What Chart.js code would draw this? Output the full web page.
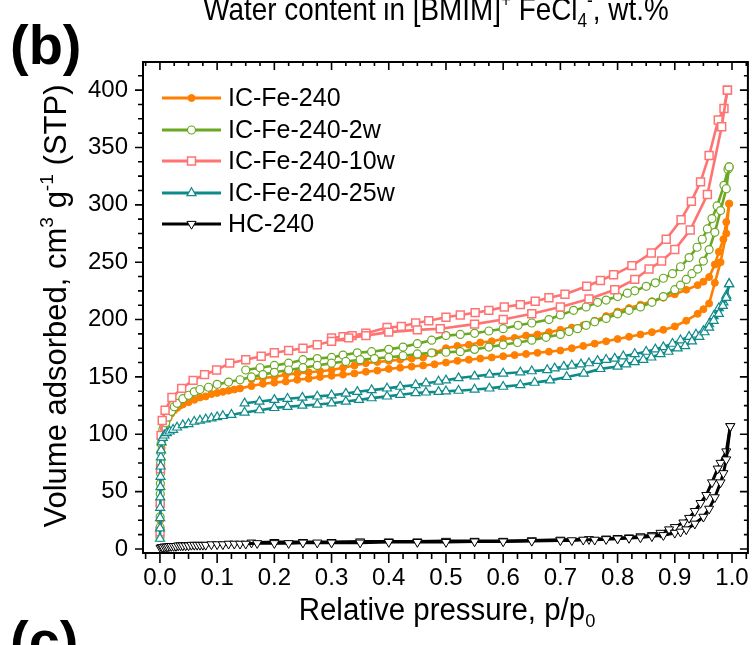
<!DOCTYPE html>
<html>
<head>
<meta charset="utf-8">
<script src="https://cdn.jsdelivr.net/npm/chart.js@4.4.1/dist/chart.umd.min.js"></script>
<style>
  body { margin: 0; background: #fff; }
  #wrap { width: 755px; height: 645px; }
</style>
</head>
<body>
<div id="wrap"><canvas id="iso" width="755" height="645"></canvas></div>
<script>
// N2 isotherms, p/p0 vs volume adsorbed (cm3/g STP)
var xTicks = [0, 0.1, 0.2, 0.3, 0.4, 0.5, 0.6, 0.7, 0.8, 0.9, 1.0];
var yTicks = [0, 50, 100, 150, 200, 250, 300, 350, 400];
var labels = ['IC-Fe-240', 'IC-Fe-240-2w', 'IC-Fe-240-10w', 'IC-Fe-240-25w', 'HC-240'];

// IC-Fe-240
var feAdsP = [0.0002, 0.0004, 0.0007, 0.001, 0.0015, 0.002, 0.003, 0.004, 0.006, 0.008,
  0.011, 0.015, 0.02, 0.025, 0.03, 0.035, 0.04, 0.05, 0.06, 0.07,
  0.08, 0.09, 0.10, 0.11, 0.12, 0.13, 0.14, 0.16, 0.18, 0.20,
  0.22, 0.24, 0.26, 0.28, 0.30, 0.32, 0.34, 0.36, 0.38, 0.40,
  0.42, 0.44, 0.46, 0.48, 0.50, 0.52, 0.54, 0.56, 0.58, 0.60,
  0.62, 0.64, 0.66, 0.68, 0.70, 0.72, 0.74, 0.76, 0.78, 0.80,
  0.82, 0.84, 0.86, 0.88, 0.90, 0.92, 0.94, 0.95, 0.96, 0.97,
  0.98, 0.99, 0.995];
var feAdsV = [12, 25, 40, 55, 68, 78, 88, 95, 101, 106,
  110, 114, 118, 121, 123, 125, 126, 128, 130, 132,
  133, 135, 136, 137, 138, 139, 140, 142, 144, 145,
  146, 147.5, 148.5, 150, 151, 152, 153, 154.5, 155.5, 157,
  158, 159, 160, 161, 162.5, 164, 165, 166, 167, 168,
  169, 170, 171, 172, 173, 175, 177, 179, 181, 183,
  185, 187, 189, 191, 194, 199, 205, 209, 214, 232,
  250, 275, 301];
var feDesP = [0.995, 0.99, 0.985, 0.977, 0.97, 0.96, 0.95, 0.94, 0.92, 0.90,
  0.88, 0.86, 0.84, 0.82, 0.80, 0.78, 0.76, 0.74, 0.72, 0.70,
  0.68, 0.66, 0.64, 0.62, 0.60, 0.58, 0.56, 0.54, 0.52, 0.50,
  0.48, 0.46, 0.44, 0.42, 0.40, 0.38, 0.36, 0.34, 0.32, 0.30,
  0.28, 0.26, 0.24, 0.22, 0.20, 0.18, 0.16];
var feDesV = [301, 285, 270, 259, 248, 237, 233, 230, 226, 222,
  219, 216, 213, 210, 207, 203, 199, 195, 193, 191,
  189, 187, 186, 184, 183, 181, 180, 178, 177, 175,
  171, 167, 166, 165, 164, 163, 162, 160, 158, 156,
  155, 154, 153, 152, 150, 149, 148];

// IC-Fe-240-2w
var w2AdsP = [0.0001, 0.0002, 0.0003, 0.0004, 0.0006, 0.0008, 0.001, 0.0013, 0.0016, 0.002,
  0.003, 0.005, 0.007, 0.010, 0.014, 0.020, 0.025, 0.030, 0.040, 0.050,
  0.060, 0.070, 0.085, 0.10, 0.12, 0.14, 0.16, 0.18, 0.20, 0.225,
  0.25, 0.275, 0.30, 0.325, 0.35, 0.375, 0.40, 0.425, 0.45, 0.475,
  0.50, 0.525, 0.55, 0.575, 0.60, 0.625, 0.65, 0.675, 0.70, 0.715,
  0.73, 0.745, 0.76, 0.78, 0.80, 0.82, 0.84, 0.86, 0.88, 0.90,
  0.91, 0.92, 0.93, 0.94, 0.95, 0.96, 0.97, 0.98, 0.99, 0.995];
var w2AdsV = [10, 19, 28, 38, 48, 57, 66, 75, 84, 92,
  98, 104, 107, 110, 115, 120, 124, 127, 131, 134,
  137, 139, 141, 143.5, 145.5, 147.5, 150, 152, 154, 156,
  158, 160, 162, 163.5, 165, 166, 167, 168.5, 170, 171,
  171.5, 172, 174, 176, 178, 180, 182, 184.5, 187, 189.5,
  192, 195, 198, 201, 205, 208, 211, 215, 220, 226,
  230, 235, 240, 244, 251, 261, 276, 295, 314, 333];
var w2DesP = [0.995, 0.993, 0.986, 0.974, 0.965, 0.957, 0.948, 0.939, 0.925, 0.91,
  0.896, 0.88, 0.866, 0.85, 0.83, 0.817, 0.80, 0.78, 0.765, 0.745,
  0.723, 0.70, 0.68, 0.65, 0.626, 0.60, 0.575, 0.55, 0.525, 0.50,
  0.475, 0.45, 0.425, 0.40, 0.37, 0.345, 0.32, 0.30, 0.275, 0.25,
  0.225, 0.20, 0.175, 0.15];
var w2DesV = [333, 331, 317, 299, 288, 279, 270, 263, 254, 246,
  240, 236, 232, 229, 225, 223, 220, 217, 215, 211,
  208, 204, 200, 197, 195, 192, 190, 188, 187, 186,
  182, 179, 176, 174, 172, 171, 169, 167, 166, 165,
  162, 160, 158, 156];

// IC-Fe-240-10w
var w10AdsP = [0.0002, 0.0005, 0.001, 0.002, 0.004, 0.009, 0.021, 0.038, 0.058, 0.078,
  0.099, 0.122, 0.15, 0.177, 0.20, 0.225, 0.25, 0.275, 0.30, 0.33,
  0.36, 0.40, 0.45, 0.49, 0.55, 0.60, 0.65, 0.70, 0.75, 0.795,
  0.83, 0.855, 0.877, 0.90, 0.927, 0.957, 0.982, 0.992];
var w10AdsV = [15, 40, 70, 99, 112, 121, 132, 140, 147, 152,
  156, 162, 165, 168, 171, 173, 175, 178, 181, 184,
  186, 189, 191, 192, 196, 200, 205, 211, 218, 226,
  235, 244, 251, 261, 278, 309, 368, 400];
var w10DesP = [0.992, 0.986, 0.976, 0.96, 0.945, 0.929, 0.911, 0.885, 0.859, 0.825,
  0.793, 0.77, 0.746, 0.708, 0.68, 0.656, 0.63, 0.602, 0.575, 0.551,
  0.525, 0.50, 0.47, 0.447, 0.422, 0.397, 0.36, 0.336, 0.32, 0.30];
var w10DesV = [400, 384, 374, 343, 320, 303, 287, 270, 258, 247,
  239, 234, 229, 222, 219, 216, 213, 211, 208, 206,
  204, 202, 199, 197, 194, 193, 188, 186, 185, 184];

// IC-Fe-240-25w
var w25AdsP = [0.0001, 0.0002, 0.0003, 0.0004, 0.0006, 0.0008, 0.001, 0.0013, 0.0016, 0.002,
  0.003, 0.005, 0.008, 0.012, 0.017, 0.023, 0.030, 0.040, 0.050, 0.060,
  0.070, 0.080, 0.090, 0.10, 0.11, 0.125, 0.148, 0.174, 0.20, 0.223,
  0.249, 0.275, 0.30, 0.325, 0.348, 0.37, 0.397, 0.42, 0.447, 0.465,
  0.487, 0.50, 0.522, 0.55, 0.576, 0.60, 0.63, 0.655, 0.682, 0.711,
  0.741, 0.77, 0.80, 0.815, 0.83, 0.845, 0.859, 0.875, 0.889, 0.905,
  0.918, 0.93, 0.943, 0.952, 0.96, 0.968, 0.977, 0.984, 0.99, 0.995];
var w25AdsV = [9, 18, 27, 36, 45, 54, 63, 72, 80, 86,
  93, 97, 99, 101, 102.5, 104, 106, 108, 109, 111,
  112, 113, 114, 115, 116, 117, 119, 121, 123, 124,
  125, 126, 127, 128.5, 130, 131.5, 133, 134.5, 136, 136.5,
  137, 137.5, 138, 139, 140, 141.5, 143, 145, 147, 150,
  153, 157, 159, 161, 163, 165, 167, 170, 172, 175,
  177, 181, 185, 189, 193, 199, 205, 212, 219, 231];
var w25DesP = [0.995, 0.99, 0.985, 0.977, 0.968, 0.96, 0.95, 0.937, 0.925, 0.91,
  0.896, 0.88, 0.866, 0.85, 0.83, 0.81, 0.795, 0.78, 0.765, 0.75,
  0.736, 0.72, 0.706, 0.69, 0.677, 0.65, 0.63, 0.60, 0.576, 0.55,
  0.522, 0.50, 0.487, 0.465, 0.447, 0.42, 0.397, 0.37, 0.345, 0.325,
  0.30, 0.275, 0.249, 0.223, 0.20, 0.174, 0.148];
var w25DesV = [231, 221, 215, 210, 203, 196, 190, 187, 185, 182,
  179, 176, 174, 172, 170, 168, 166, 165, 164, 162,
  161, 160, 159, 157.5, 156, 155, 154, 153, 152, 150.5,
  149, 147, 146, 144.5, 143, 141.5, 140, 138.5, 137, 135.5,
  134, 133, 132, 131, 130, 128.5, 127];

// HC-240
var hcAdsP = [0.001, 0.003, 0.005, 0.008, 0.011, 0.014, 0.017, 0.02, 0.024, 0.028,
  0.032, 0.036, 0.04, 0.045, 0.05, 0.055, 0.06, 0.065, 0.07, 0.075,
  0.08, 0.09, 0.10, 0.11, 0.12, 0.13, 0.14, 0.15, 0.17, 0.20,
  0.225, 0.25, 0.275, 0.30, 0.35, 0.40, 0.45, 0.50, 0.55, 0.60,
  0.65, 0.70, 0.72, 0.74, 0.76, 0.78, 0.80, 0.82, 0.84, 0.86,
  0.88, 0.90, 0.91, 0.92, 0.935, 0.95, 0.96, 0.97, 0.98, 0.985,
  0.99, 0.997];
var hcAdsV = [1, 1.5, 1.5, 2, 2, 2, 2.5, 2.5, 2.5, 2.5,
  3, 3, 3, 3, 3, 3.5, 3.5, 3.5, 3.5, 3.5,
  3.5, 4, 4, 4, 4.5, 4.5, 4.5, 4.5, 5, 5,
  5, 5.5, 5.5, 5.5, 5.5, 6, 6, 6, 6.5, 6.5,
  7, 7.5, 7.5, 8, 8, 8.5, 9, 9.5, 10, 11,
  12, 14, 15, 17, 22, 28, 35, 45, 58, 66,
  78, 107];
var hcDesP = [0.997, 0.99, 0.98, 0.975, 0.965, 0.955, 0.945, 0.935, 0.925, 0.915,
  0.90, 0.89, 0.875, 0.86, 0.84, 0.82, 0.80, 0.78, 0.75, 0.70,
  0.65, 0.60, 0.55, 0.50, 0.45, 0.40, 0.35, 0.30, 0.25, 0.20, 0.16];
var hcDesV = [107, 85, 75, 70, 58, 47, 40, 33, 27, 23,
  19, 17, 14, 12, 11, 10, 9.5, 9, 8.5, 8,
  7.5, 7, 7, 7, 6.5, 6.5, 6.5, 6, 6, 6, 5.5];

var FONT = "'Liberation Sans', Arial, Helvetica, sans-serif";

var styles = [
  { color: '#ff7f00', fill: '#ff7f00', shape: 'circle', rot: 0, r: 3.5, bw: 1 },
  { color: '#6aa823', fill: '#ffffff', shape: 'circle', rot: 0, r: 4, bw: 1.2 },
  { color: '#ff7373', fill: '#ffffff', shape: 'rect', rot: 0, r: 5.6, bw: 1.5 },
  { color: '#0f8a8a', fill: '#ffffff', shape: 'triangle', rot: 0, r: 5.2, bw: 1.2 },
  { color: '#000000', fill: '#ffffff', shape: 'triangle', rot: 180, r: 5.2, bw: 1 }
];

function pts(px, py) {
  return px.map(function (p, i) { return { x: p, y: py[i] }; });
}

function branch(k, px, py) {
  var s = styles[k];
  return {
    label: labels[k],
    data: pts(px, py),
    showLine: true,
    borderColor: s.color,
    borderWidth: k === 4 ? 3 : 2.6,
    backgroundColor: s.fill,
    pointStyle: s.shape,
    pointRotation: s.rot,
    pointRadius: s.r,
    pointBorderColor: s.color,
    pointBackgroundColor: s.fill,
    pointBorderWidth: s.bw,
    tension: 0,
    order: 5 - k
  };
}

// draws a run of [text, kind] pieces, kind 1 = superscript, -1 = subscript
// sx squeezes the text horizontally, like the narrow lettering of the figure
function richText(ctx, parts, x, y, size, sx) {
  ctx.save();
  ctx.translate(x, y);
  ctx.scale(sx, 1);
  var widths = parts.map(function (p) {
    ctx.font = (p[1] ? size * 0.62 : size) + 'px ' + FONT;
    return ctx.measureText(p[0]).width;
  });
  var total = widths.reduce(function (a, b) { return a + b; }, 0);
  var cx = -total / 2;
  ctx.textBaseline = 'alphabetic';
  ctx.textAlign = 'left';
  parts.forEach(function (p, i) {
    ctx.font = (p[1] ? size * 0.62 : size) + 'px ' + FONT;
    var dy = p[1] === 1 ? -size * 0.42 : (p[1] === -1 ? size * 0.22 : 0);
    ctx.fillText(p[0], cx, dy);
    cx += widths[i];
  });
  ctx.restore();
}

var decor = {
  id: 'decor',
  afterDatasetsDraw: function (chart) {
    var ctx = chart.ctx, a = chart.chartArea;
    var xs = chart.scales.x, ys = chart.scales.y;
    ctx.save();
    ctx.strokeStyle = '#000';
    ctx.lineWidth = 2;
    ctx.strokeRect(a.left, a.top, a.right - a.left, a.bottom - a.top);

    ctx.lineWidth = 1.6;
    ctx.beginPath();
    var i, v, px, major;
    for (i = -1; i <= 41; i++) {
      v = i * 0.025;
      if (v < xs.min || v > xs.max) continue;
      px = xs.getPixelForValue(v);
      major = i % 4 === 0;
      ctx.moveTo(px, a.bottom); ctx.lineTo(px, a.bottom + (major ? 10 : 6));
      ctx.moveTo(px, a.top); ctx.lineTo(px, a.top + (major ? 8 : 4));
    }
    for (i = 0; i <= 33; i++) {
      v = i * 12.5;
      if (v < ys.min || v > ys.max) continue;
      px = ys.getPixelForValue(v);
      major = i % 4 === 0;
      ctx.moveTo(a.left, px); ctx.lineTo(a.left - (major ? 8 : 5), px);
      ctx.moveTo(a.right, px); ctx.lineTo(a.right - (major ? 8 : 4), px);
    }
    ctx.stroke();

    // legend
    var rowY = [98, 130, 161, 193, 224];
    styles.forEach(function (s, k) {
      var y = rowY[k];
      ctx.strokeStyle = s.color;
      ctx.lineWidth = 3;
      ctx.beginPath();
      ctx.moveTo(162, y); ctx.lineTo(221, y);
      ctx.stroke();
      ctx.fillStyle = s.fill;
      ctx.strokeStyle = s.color;
      ctx.lineWidth = s.bw;
      Chart.helpers.drawPoint(ctx, { pointStyle: s.shape, rotation: s.rot, radius: s.r, borderWidth: s.bw }, 191.5, y);
      ctx.fillStyle = '#000';
      ctx.font = '25px ' + FONT;
      ctx.textAlign = 'left';
      ctx.textBaseline = 'middle';
      ctx.fillText(labels[k], 228, y + 1);
    });

    ctx.fillStyle = '#000';
    // axis titles
    richText(ctx, [['Relative pressure, p/p', 0], ['0', -1]], 447, 620, 31, 0.95);
    ctx.save();
    ctx.translate(66, 306);
    ctx.rotate(-Math.PI / 2);
    richText(ctx, [['Volume adsorbed, cm', 0], ['3', 1], [' g', 0], ['-1', 1], [' (STP)', 0]], 0, 0, 31, 1);
    ctx.restore();
    // header of the panel, cut by the top edge
    richText(ctx, [['Water content in [BMIM]', 0], ['+', 1], [' FeCl', 0], ['4', -1], ['-', 1], [', wt.%', 0]], 436, 20, 32, 0.87);
    ctx.font = 'bold 56px ' + FONT;
    ctx.textAlign = 'left';
    ctx.textBaseline = 'alphabetic';
    ctx.fillText('(b)', 10, 64);
    ctx.fillText('(c)', 10, 660);
    ctx.restore();
  }
};

new Chart(document.getElementById('iso'), {
  type: 'scatter',
  data: {
    datasets: [
      branch(0, feAdsP, feAdsV), branch(0, feDesP, feDesV),
      branch(1, w2AdsP, w2AdsV), branch(1, w2DesP, w2DesV),
      branch(2, w10AdsP, w10AdsV), branch(2, w10DesP, w10DesV),
      branch(3, w25AdsP, w25AdsV), branch(3, w25DesP, w25DesV),
      branch(4, hcAdsP, hcAdsV), branch(4, hcDesP, hcDesV)
    ]
  },
  options: {
    responsive: false,
    animation: false,
    devicePixelRatio: 1,
    layout: { padding: { top: 62, right: 4, left: 0, bottom: 0 } },
    plugins: { legend: { display: false }, tooltip: { enabled: false } },
    scales: {
      x: {
        type: 'linear',
        min: -0.0296,
        max: 1.0278,
        afterBuildTicks: function (s) { s.ticks = xTicks.map(function (v) { return { value: v }; }); },
        afterFit: function (s) { s.height = 92; s.paddingLeft = 0; s.paddingRight = 0; },
        grid: { display: false, drawTicks: false },
        border: { display: false },
        ticks: {
          padding: 11,
          color: '#000',
          font: { family: FONT, size: 24 },
          maxRotation: 0,
          callback: function (v) { return v.toFixed(1); }
        }
      },
      y: {
        type: 'linear',
        min: -3.5,
        max: 424.5,
        afterBuildTicks: function (s) { s.ticks = yTicks.map(function (v) { return { value: v }; }); },
        afterFit: function (s) { s.width = 143; s.paddingTop = 0; s.paddingBottom = 0; },
        grid: { display: false, drawTicks: false },
        border: { display: false },
        ticks: {
          padding: 15,
          color: '#000',
          font: { family: FONT, size: 24 },
          callback: function (v) { return String(v); }
        }
      }
    }
  },
  plugins: [decor]
});
</script>
</body>
</html>
